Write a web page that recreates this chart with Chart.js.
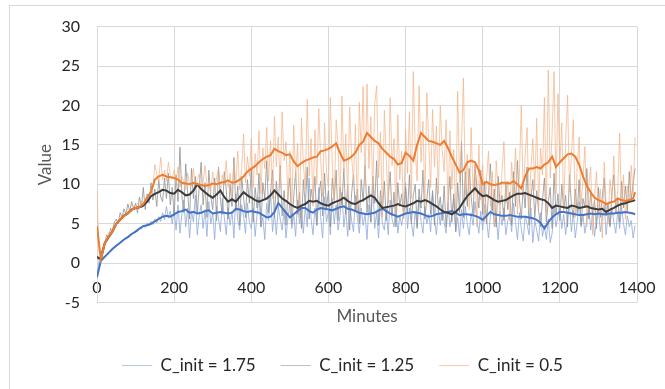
<!DOCTYPE html>
<html><head><meta charset="utf-8">
<script src="https://cdn.jsdelivr.net/npm/chart.js@4.4.1/dist/chart.umd.min.js"></script>
<style>
html,body{margin:0;padding:0;background:#fff;overflow:hidden;width:665px;height:389px;}
#frame{position:absolute;left:9px;top:5px;width:720px;height:440px;border:1px solid #d9d9d9;box-sizing:border-box;}
#wrap{position:absolute;left:0;top:0;width:665px;height:389px;}
</style></head><body>
<div id="frame"></div>
<div id="wrap"><canvas id="c" width="665" height="389"></canvas></div>
<script>
// Raw samples every 5 minutes (t = 0 .. 1395)
const rawStep = 5;
const rawBlue = [
-1.6,0.2,0.5,0.7,0.9,1.1,1.3,1.6,1.9,2.0,2.3,2.4,2.7,2.8,3.0,3.2,3.4,3.5,3.7,3.8,
4.1,4.0,4.4,4.3,4.8,4.5,5.1,4.7,5.3,4.9,5.6,5.1,5.9,5.3,6.4,5.5,7.2,5.7,6.6,5.0,
6.8,4.2,7.4,3.8,6.2,8.0,4.6,7.0,3.2,6.6,5.2,8.6,3.6,6.0,7.4,4.4,6.8,3.4,7.8,5.0,
6.4,3.0,7.2,5.6,4.0,8.2,5.8,3.6,7.0,4.8,6.6,3.2,8.8,5.4,4.2,7.4,6.0,3.8,7.6,5.2,
4.4,7.0,3.4,6.2,8.4,4.6,5.8,3.0,7.6,5.4,9.2,4.0,6.4,3.6,7.2,5.6,4.2,6.8,3.2,5.8,
7.4,4.4,6.2,3.4,8.0,5.0,6.8,3.8,7.2,4.6,10.8,5.6,3.6,7.0,4.8,9.6,5.8,3.2,8.4,5.2,
6.6,3.6,8.2,5.0,7.4,4.2,6.0,9.0,4.6,6.8,3.4,7.6,5.4,4.0,8.6,5.8,3.8,7.0,4.8,6.2,
3.0,7.4,5.2,10.0,4.4,6.4,3.2,7.8,5.0,4.2,6.8,3.6,8.0,5.6,4.6,7.2,3.8,6.0,4.8,6.6,
10.2,4.4,7.0,5.2,3.4,6.6,4.6,8.4,5.4,3.8,7.2,5.0,6.2,4.0,8.8,5.6,3.6,6.8,4.8,7.4,
5.2,3.8,7.6,4.6,6.2,8.2,4.0,5.8,3.4,6.8,4.4,7.2,5.0,3.6,6.4,4.8,7.8,5.4,3.8,6.6,
4.2,7.4,5.6,3.2,6.0,8.0,4.6,5.8,3.0,6.6,4.8,7.0,3.6,5.4,6.2,4.0,7.6,5.2,3.0,6.4,
4.4,2.8,6.0,5.0,3.6,7.0,2.6,5.4,4.2,2.8,6.4,3.4,4.8,3.0,5.6,2.6,3.8,7.2,4.6,6.0,
7.0,4.4,6.2,3.6,5.8,7.4,4.0,6.6,3.2,5.2,7.8,4.6,6.0,3.8,5.6,7.2,4.2,6.4,3.4,5.4,
6.8,4.0,5.6,7.4,3.6,6.2,4.8,7.0,5.2,3.8,6.6,4.4,7.2,5.0,3.6,6.0,4.6,5.4,3.2,4.8
];
const rawGray = [
0.6,0.4,1.2,2.0,2.4,3.6,3.2,4.4,4.1,5.2,5.6,5.0,6.4,5.8,6.9,6.2,7.5,6.6,7.8,6.8,
7.6,6.4,8.4,7.0,9.6,6.8,8.8,7.6,10.2,8.0,9.4,7.2,10.6,8.4,7.8,10.8,8.2,11.4,7.4,9.6,
6.0,11.2,7.8,14.7,8.6,6.4,12.6,9.0,5.6,12.0,8.2,11.0,6.2,9.6,12.8,7.4,10.2,5.8,11.8,8.4,
6.8,10.8,5.4,12.2,8.0,6.2,11.6,9.4,5.6,10.0,7.2,13.4,6.6,9.8,4.8,11.0,8.4,5.8,10.6,7.6,
12.0,5.2,9.6,7.0,11.4,4.6,10.2,8.2,13.0,6.4,9.0,11.8,5.8,10.4,7.4,12.4,6.0,9.2,4.8,8.6,
10.8,5.0,8.4,11.6,6.2,9.0,4.4,10.6,7.2,12.2,5.6,9.4,7.8,11.0,4.8,8.6,10.4,6.0,11.4,7.0,
9.2,4.6,10.8,8.0,11.8,5.4,9.6,7.4,12.0,6.2,10.0,4.2,8.8,11.2,6.6,9.4,5.0,10.6,7.8,12.4,
6.4,9.8,5.2,11.0,7.6,13.0,4.8,9.2,6.6,10.4,5.4,8.2,11.6,6.0,9.0,4.6,10.2,7.2,8.8,5.8,
9.6,6.4,11.2,5.0,8.6,10.0,4.4,9.4,7.0,11.8,5.6,8.0,10.6,6.2,9.2,4.8,10.8,6.8,8.4,5.4,
9.8,4.6,7.6,11.0,5.2,8.8,4.0,10.2,6.4,15.5,5.8,11.6,7.2,12.0,8.4,6.0,12.4,9.6,7.0,11.8,
6.2,10.4,5.0,8.8,12.6,6.6,9.4,4.6,11.0,7.4,8.6,5.4,10.2,6.8,9.0,4.8,11.6,7.2,13.0,8.2,
5.6,9.8,7.0,12.2,4.8,8.4,10.6,5.8,9.2,6.6,4.6,8.0,10.8,5.2,7.8,9.6,4.4,11.4,6.2,8.8,
5.4,10.0,6.8,8.6,4.6,11.2,7.4,5.8,9.4,6.4,10.6,4.8,8.2,7.0,12.0,5.6,9.0,6.2,8.0,4.4,
9.6,5.8,8.4,10.8,6.0,7.6,4.6,9.0,11.2,6.4,8.2,5.2,10.4,7.0,9.8,6.6,11.6,8.0,10.2,12.0
];
const rawOrange = [
9.3,1.5,0.8,1.2,2.8,3.2,3.9,3.6,4.5,4.3,5.2,5.0,5.9,5.6,6.3,6.0,6.6,6.9,6.5,7.3,
7.0,7.6,7.2,7.9,7.4,8.3,7.9,8.8,9.2,9.8,12.5,11.2,10.3,13.4,10.6,11.8,10.4,12.8,11.2,10.7,
11.8,10.2,12.2,9.6,11.0,10.4,9.3,11.4,10.1,9.8,12.0,9.5,10.6,11.3,9.2,10.2,12.4,9.9,10.3,8.9,
11.6,9.4,10.8,12.1,9.0,11.2,10.0,13.0,9.6,11.4,8.6,12.6,10.1,14.2,9.3,12.0,16.4,10.2,13.5,11.0,
15.8,9.6,13.9,11.2,16.8,8.8,14.6,12.0,17.2,10.4,15.5,8.2,18.6,12.2,16.0,9.5,19.2,13.0,15.4,8.0,
14.2,6.5,17.5,10.8,15.2,5.8,18.4,12.6,9.4,20.8,11.0,15.8,7.2,16.9,10.0,19.6,13.2,8.4,17.8,11.5,
9.6,21.0,12.4,7.6,18.2,14.8,6.8,21.2,11.6,16.4,8.2,19.8,13.6,10.2,17.6,6.4,20.4,14.0,22.4,9.8,
22.7,12.0,18.6,8.6,20.2,22.5,10.8,16.6,5.8,19.4,13.2,7.6,21.0,12.4,15.8,6.2,18.8,10.6,14.2,5.6,
17.0,11.4,19.2,8.2,24.3,14.6,10.4,22.5,12.8,18.0,7.4,21.6,15.2,9.6,19.5,12.2,17.4,8.8,20.0,14.4,
11.6,18.2,6.6,16.8,9.4,14.4,5.8,21.8,10.2,15.2,23.5,8.6,13.8,6.8,17.2,9.0,12.6,4.6,15.0,8.0,
12.4,5.2,10.8,14.2,7.2,11.6,4.8,13.0,9.2,6.0,11.8,15.4,7.6,10.4,5.4,12.8,8.8,14.6,6.2,11.0,
20.0,8.4,13.6,17.2,6.8,12.0,15.8,9.2,18.4,7.0,14.6,11.2,21.0,6.4,24.5,10.8,16.6,24.3,8.8,21.5,
12.6,17.8,6.6,15.4,21.3,9.0,13.8,18.2,5.8,12.4,16.0,7.4,10.6,14.8,4.6,9.8,12.2,3.6,8.4,11.6,
6.2,9.4,3.2,12.8,7.4,5.0,10.6,8.2,13.6,6.4,9.2,16.5,7.0,11.2,5.6,9.8,7.8,12.4,8.6,16.0
];
const rawMinutes = rawBlue.map((_, i) => i * rawStep);

// Smoothed (moving-average) series every 10 minutes, last point at 1395
const smoothMinutes = Array.from({length: 140}, (_, i) => i * 10).concat([1395]);
const smoothBlue = [
-1.8,0.3,0.8,1.3,1.8,2.2,2.6,3.0,3.3,3.7,
4.0,4.4,4.7,4.8,5.0,5.3,5.6,5.9,6.0,5.9,
6.2,6.5,6.6,6.8,6.4,6.5,6.3,6.4,6.6,6.7,
6.3,6.4,6.5,6.4,6.3,6.4,6.9,6.8,6.6,6.5,
6.6,6.5,6.4,6.1,5.8,5.9,6.5,7.6,7.0,6.4,
5.8,6.2,6.6,7.0,7.0,6.6,6.4,6.8,7.0,6.9,
6.8,6.7,6.9,7.1,7.2,6.9,6.8,6.6,6.4,6.3,
6.2,6.3,6.4,6.7,6.9,6.6,6.3,6.1,5.9,6.1,
6.3,6.4,6.5,6.4,6.3,6.1,5.9,6.0,6.2,6.3,
6.4,6.5,6.6,6.4,6.1,6.2,6.2,6.1,6.0,5.8,
5.5,6.0,6.5,6.2,6.1,6.0,6.0,6.1,6.0,5.9,
5.9,5.9,5.8,5.7,5.5,5.1,4.4,5.2,5.8,6.2,
6.5,6.5,6.4,6.3,6.2,6.1,6.1,6.2,6.3,6.2,
6.3,6.2,6.2,6.3,6.3,6.4,6.4,6.5,6.4,6.3,
6.2];
const smoothGray = [
0.8,0.5,2.5,3.3,4.0,5.0,5.5,6.0,6.3,6.8,
7.0,7.1,7.3,7.8,8.5,8.8,9.0,9.3,9.2,8.9,
8.8,9.3,9.0,8.6,8.7,9.2,10.0,9.4,9.0,8.6,
8.3,8.7,9.2,8.4,7.8,8.1,7.8,8.4,9.0,8.6,
8.3,8.0,7.8,8.0,8.2,8.6,9.2,8.7,8.2,7.9,
7.5,7.2,7.0,7.3,7.5,7.9,7.8,7.9,7.6,7.4,
7.3,7.6,7.8,8.0,8.3,7.9,7.6,7.5,7.8,8.0,
8.3,8.6,8.3,7.6,7.0,7.1,7.2,7.3,7.5,7.3,
7.2,7.4,7.6,7.9,7.8,8.0,7.8,7.5,7.2,6.8,
6.5,6.4,6.2,6.5,7.0,7.8,8.5,9.0,9.5,8.9,
8.5,8.6,8.3,8.0,7.8,7.9,8.0,8.3,8.6,8.8,
8.8,8.9,8.7,8.5,8.3,8.1,8.0,7.6,7.0,7.3,
7.2,7.1,7.0,7.3,7.2,7.0,7.1,7.2,7.0,6.9,
6.8,6.9,6.5,6.8,7.0,7.3,7.5,7.6,7.8,7.9,
8.0];
const smoothOrange = [
4.7,0.5,2.5,3.4,4.0,5.0,5.5,6.0,6.3,6.8,
7.0,7.1,7.5,8.3,9.0,10.6,11.0,11.2,11.0,10.9,
10.8,10.6,10.2,10.1,10.0,10.2,10.0,9.9,9.8,9.9,
10.1,10.0,10.2,10.3,10.5,10.2,10.3,10.6,11.0,11.6,
12.0,12.3,12.8,13.2,13.5,13.7,14.5,14.2,14.0,13.7,
13.8,12.9,12.3,12.7,13.0,13.2,13.4,13.5,14.2,14.3,
14.5,14.8,15.2,14.0,13.0,13.2,13.5,14.0,15.0,15.4,
16.5,16.0,15.5,15.2,14.5,14.0,13.5,13.2,12.5,12.7,
14.0,13.6,13.0,15.0,16.5,16.0,15.5,15.4,15.2,15.0,
15.5,14.6,13.5,12.5,11.5,11.8,12.8,13.0,12.8,11.8,
10.0,10.3,10.0,9.9,10.0,10.2,10.2,10.1,10.4,10.0,
9.5,11.0,12.0,12.0,12.2,12.0,12.5,12.8,13.5,12.2,
12.8,13.3,13.8,13.9,13.5,12.5,11.0,9.8,9.0,8.3,
8.0,7.8,7.5,7.7,7.8,8.2,8.0,7.9,8.0,8.2,
9.0];

const seriesLabels = ['C_init = 1.75', 'C_init = 1.25', 'C_init = 0.5'];
const legendColors = ['#b4c7e7', '#bfbfbf', '#f8cbad'];
const yTicks = [-5, 0, 5, 10, 15, 20, 25, 30];
const xTicks = [0, 200, 400, 600, 800, 1000, 1200, 1400];

const pts = (xs, ys) => ys.map((v, i) => ({x: xs[i], y: v}));

Chart.defaults.font.family = 'Lato';
Chart.defaults.font.size = 16;

const layoutTweaks = {
  id: 'layoutTweaks',
  afterLayout(chart) {
    const lg = chart.legend;
    if (lg) { lg.left += 8; lg.right += 8; }
    const tb = chart.titleBlock;
    if (tb) { tb.left = chart.chartArea.left; tb.right = chart.chartArea.right; }
  }
};

new Chart(document.getElementById('c'), {
  type: 'line',
  data: {
    datasets: [
      {label: seriesLabels[0], data: pts(rawMinutes, rawBlue), borderColor: 'rgba(143,170,220,0.8)', borderWidth: 1, pointRadius: 0, order: 6},
      {label: seriesLabels[1], data: pts(rawMinutes, rawGray), borderColor: 'rgba(145,145,145,0.8)', borderWidth: 1, pointRadius: 0, order: 5},
      {label: seriesLabels[2], data: pts(rawMinutes, rawOrange), borderColor: 'rgba(244,177,131,0.7)', borderWidth: 1, pointRadius: 0, order: 4},
      {label: 'avg 1.75', data: pts(smoothMinutes, smoothBlue), borderColor: '#4472C4', borderWidth: 2, pointRadius: 0, order: 3},
      {label: 'avg 1.25', data: pts(smoothMinutes, smoothGray), borderColor: '#3b3b3b', borderWidth: 2, pointRadius: 0, order: 2},
      {label: 'avg 0.5', data: pts(smoothMinutes, smoothOrange), borderColor: '#ED7D31', borderWidth: 2, pointRadius: 0, order: 1}
    ]
  },
  options: {
    responsive: false,
    animation: false,
    devicePixelRatio: 1,
    layout: {padding: {left: 32, right: 28, top: 25, bottom: 5}},
    scales: {
      x: {
        type: 'linear', position: {y: 0}, min: 0, max: 1400,
        afterBuildTicks: s => { s.ticks = xTicks.map(v => ({value: v})); },
        afterFit: s => { s.paddingLeft = 0; s.paddingRight = 0; },
        grid: {color: '#d9d9d9', drawTicks: false},
        border: {color: '#d9d9d9'},
        ticks: {color: '#262626', padding: 15, maxRotation: 0, font: {size: 16}, callback: v => String(v)}
      },
      y: {
        min: -5, max: 30,
        afterBuildTicks: s => { s.ticks = yTicks.map(v => ({value: v})); },
        afterFit: s => { s.width = 65; },
        grid: {color: '#d9d9d9', drawTicks: false},
        border: {color: '#d9d9d9'},
        ticks: {color: '#262626', padding: 17, font: {size: 16}, callback: v => String(v)},
        title: {display: true, text: 'Value', color: '#595959', font: {size: 17}, padding: {top: 3, bottom: 0}}
      }
    },
    plugins: {
      title: {display: true, text: 'Minutes', position: 'bottom', weight: 500, color: '#595959', font: {size: 17, weight: 'normal'}, padding: {top: 4, bottom: 5}},
      legend: {
        position: 'bottom',
        labels: {
          generateLabels: () => seriesLabels.map((t, i) => ({
            text: t, strokeStyle: legendColors[i], fillStyle: legendColors[i], lineWidth: 0,
            datasetIndex: i, hidden: false, fontColor: '#262626'
          })),
          usePointStyle: false, boxWidth: 30, boxHeight: 1,
          color: '#262626', padding: 25, font: {size: 17}
        }
      },
      tooltip: {enabled: false}
    }
  },
  plugins: [layoutTweaks]
});
</script>
</body></html>
